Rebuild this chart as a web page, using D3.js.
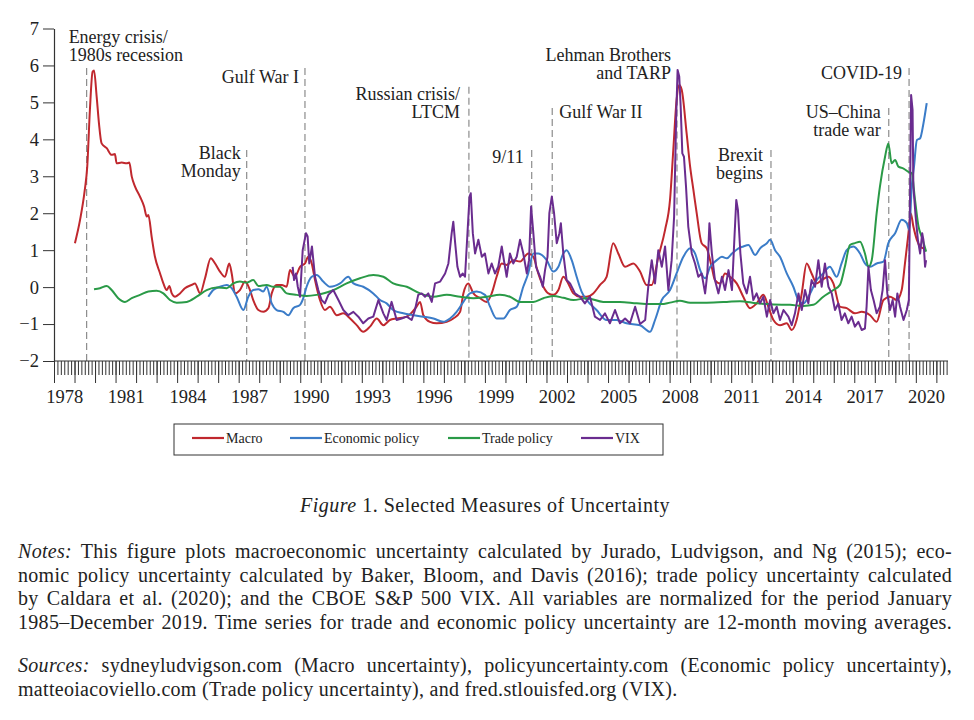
<!DOCTYPE html>
<html>
<head>
<meta charset="utf-8">
<script src="https://cdn.jsdelivr.net/npm/d3@7"></script>
<style>
  body { margin: 0; background: #fff; }
  svg { display: block; }
  text { font-family: "Liberation Serif", serif; fill: #222; }
</style>
</head>
<body>
<svg id="chart" width="974" height="720"></svg>
<script>
// ---- data (decimal year, normalized value) ----
const macro = [[1979.02,1.19],[1979.27,1.82],[1979.5,2.63],[1979.62,3.26],[1979.75,4.8],[1979.88,5.83],[1979.95,5.86],[1980.08,5.15],[1980.19,4.44],[1980.32,3.89],[1980.57,3.76],[1980.81,3.58],[1980.97,3.6],[1981.05,3.35],[1981.3,3.37],[1981.54,3.35],[1981.67,3.37],[1981.79,2.99],[1981.95,2.72],[1982.19,2.45],[1982.39,2.18],[1982.52,1.91],[1982.6,1.95],[1982.76,1.36],[1982.92,0.82],[1983.17,0.37],[1983.33,0.1],[1983.49,-0.08],[1983.62,0.03],[1983.74,-0.17],[1983.9,-0.26],[1984.14,-0.17],[1984.38,-0.03],[1984.71,0.06],[1984.87,0.1],[1985.12,-0.17],[1985.36,0.24],[1985.64,0.78],[1985.85,0.64],[1986.09,0.42],[1986.33,0.28],[1986.54,0.64],[1986.66,0.37],[1986.82,-0.17],[1987.06,-0.08],[1987.31,0.15],[1987.55,-0.08],[1987.71,-0.35],[1987.96,-0.62],[1988.2,-0.67],[1988.45,-0.57],[1988.61,-0.17],[1988.85,0.06],[1989.1,0.06],[1989.34,0.01],[1989.5,0.46],[1989.74,0.28],[1989.99,0.55],[1990.23,0.64],[1990.39,0.82],[1990.56,0.64],[1990.72,0.19],[1990.96,-0.35],[1991.2,-0.62],[1991.45,-0.53],[1991.78,-0.76],[1992.1,-0.71],[1992.43,-0.85],[1992.75,-1.03],[1993.07,-1.21],[1993.4,-1.07],[1993.73,-0.85],[1994.05,-1.03],[1994.37,-0.89],[1994.7,-0.85],[1995.19,-0.8],[1995.67,-0.53],[1995.84,-0.4],[1996.0,-0.76],[1996.32,-0.94],[1996.65,-0.98],[1997.14,-0.94],[1997.46,-0.85],[1997.79,-0.67],[1997.95,-0.17],[1998.19,0.1],[1998.44,-0.17],[1998.76,-0.3],[1999.09,-0.4],[1999.33,-0.17],[1999.57,0.28],[1999.82,0.64],[2000.06,0.6],[2000.38,0.73],[2000.71,0.69],[2001.11,0.91],[2001.36,0.82],[2001.6,0.37],[2001.85,0.01],[2002.09,-0.17],[2002.33,-0.21],[2002.58,-0.08],[2002.82,0.28],[2003.06,0.1],[2003.31,-0.17],[2003.63,-0.26],[2003.96,-0.26],[2004.28,-0.17],[2004.61,0.06],[2004.93,0.28],[2005.25,1.19],[2005.5,0.91],[2005.83,0.55],[2006.23,0.64],[2006.56,0.42],[2006.88,0.06],[2007.13,0.06],[2007.45,0.82],[2007.78,1.55],[2008.02,2.36],[2008.18,3.71],[2008.34,5.06],[2008.47,5.47],[2008.59,5.34],[2008.83,4.16],[2009.0,3.26],[2009.16,2.63],[2009.32,2.0],[2009.56,1.19],[2009.81,1.05],[2010.05,0.55],[2010.21,0.19],[2010.46,0.1],[2010.7,0.37],[2010.94,0.28],[2011.27,0.1],[2011.59,-0.26],[2011.92,-0.57],[2012.24,-0.44],[2012.57,-0.21],[2012.81,-0.53],[2013.06,-0.89],[2013.38,-1.03],[2013.71,-0.98],[2013.95,-1.16],[2014.19,-0.89],[2014.44,-0.17],[2014.68,0.64],[2014.92,0.37],[2015.17,0.1],[2015.41,0.19],[2015.74,0.28],[2015.98,0.1],[2016.3,-0.53],[2016.63,-0.57],[2017.03,-0.71],[2017.36,-0.67],[2017.77,-0.76],[2018.09,-0.94],[2018.42,-0.35],[2018.74,-0.26],[2019.07,-0.35],[2019.31,-0.08],[2019.47,0.64],[2019.64,1.46],[2019.75,2.0],[2019.88,1.64],[2020.05,1.28],[2020.21,1.1],[2020.37,1.05]];

const econPolicy = [[1985.52,-0.26],[1985.76,-0.08],[1986.09,0.01],[1986.42,0.06],[1986.66,-0.03],[1986.9,-0.26],[1987.23,-0.62],[1987.47,-0.26],[1987.71,-0.08],[1987.96,-0.06],[1988.2,-0.12],[1988.36,0.01],[1988.61,-0.44],[1988.85,-0.62],[1989.18,-0.67],[1989.42,-0.76],[1989.66,-0.57],[1989.99,-0.48],[1990.15,-0.3],[1990.31,0.01],[1990.56,0.28],[1990.8,0.33],[1991.12,0.15],[1991.45,0.01],[1991.94,0.1],[1992.34,0.28],[1992.59,0.1],[1993.07,0.01],[1993.56,-0.17],[1993.89,-0.35],[1994.21,-0.44],[1994.53,-0.62],[1995.02,-0.71],[1995.51,-0.76],[1996.0,-0.8],[1996.49,-0.85],[1996.97,-0.94],[1997.3,-0.85],[1997.62,-0.67],[1997.95,-0.4],[1998.27,-0.17],[1998.6,-0.12],[1999.0,-0.21],[1999.25,-0.53],[1999.57,-0.85],[1999.9,-0.85],[2000.22,-0.62],[2000.55,-0.53],[2000.87,0.01],[2001.11,0.37],[2001.36,0.91],[2001.6,0.91],[2002.01,0.73],[2002.33,0.42],[2002.58,0.55],[2002.82,0.91],[2002.98,1.0],[2003.23,0.73],[2003.47,0.28],[2003.71,-0.12],[2003.96,-0.35],[2004.44,-0.62],[2004.93,-0.89],[2005.41,-0.89],[2005.9,-0.98],[2006.56,-1.03],[2007.05,-1.21],[2007.29,-0.89],[2007.62,-0.35],[2008.02,-0.08],[2008.34,0.37],[2008.67,0.82],[2009.0,1.05],[2009.24,0.91],[2009.49,0.46],[2009.73,0.24],[2009.98,0.55],[2010.3,0.73],[2010.55,0.82],[2010.79,0.78],[2011.04,0.91],[2011.36,1.05],[2011.59,1.1],[2011.84,1.14],[2012.17,0.87],[2012.41,1.05],[2012.74,1.19],[2012.9,1.28],[2013.14,1.0],[2013.38,0.82],[2013.71,0.37],[2014.03,0.01],[2014.28,-0.35],[2014.52,-0.44],[2014.85,-0.17],[2015.17,0.19],[2015.49,0.37],[2015.81,0.55],[2016.14,0.28],[2016.38,0.64],[2016.63,1.0],[2016.96,1.1],[2017.28,0.91],[2017.52,0.64],[2017.77,0.55],[2018.09,0.64],[2018.42,0.69],[2018.66,1.19],[2018.99,1.46],[2019.31,1.82],[2019.56,1.73],[2019.68,1.55],[2019.8,2.72],[2019.91,3.26],[2020.05,3.98],[2020.21,4.03],[2020.37,4.43],[2020.53,4.98]];

const tradePolicy = [[1979.95,-0.06],[1980.24,-0.03],[1980.57,0.03],[1980.81,-0.08],[1981.13,-0.3],[1981.46,-0.4],[1981.79,-0.3],[1982.19,-0.21],[1982.6,-0.12],[1983.0,-0.1],[1983.33,-0.17],[1983.65,-0.35],[1983.98,-0.42],[1984.47,-0.4],[1984.95,-0.26],[1985.44,-0.08],[1985.93,-0.01],[1986.42,-0.03],[1986.74,0.1],[1987.06,0.15],[1987.39,0.12],[1987.71,0.19],[1987.96,0.03],[1988.36,0.06],[1988.69,0.01],[1989.01,0.01],[1989.34,-0.17],[1989.83,-0.21],[1990.31,-0.24],[1990.8,-0.21],[1991.2,-0.16],[1991.61,-0.08],[1992.26,0.1],[1992.91,0.24],[1993.56,0.33],[1994.05,0.28],[1994.53,0.1],[1995.19,0.01],[1995.84,-0.17],[1996.49,-0.26],[1997.14,-0.21],[1997.79,-0.26],[1998.44,-0.3],[1999.09,-0.26],[1999.73,-0.21],[2000.22,-0.26],[2000.71,-0.4],[2001.36,-0.4],[2001.85,-0.3],[2002.33,-0.24],[2002.82,-0.29],[2003.31,-0.35],[2003.96,-0.3],[2004.77,-0.4],[2005.58,-0.4],[2006.4,-0.44],[2007.05,-0.46],[2007.6,-0.46],[2008.02,-0.42],[2008.5,-0.37],[2009.0,-0.42],[2009.81,-0.42],[2010.79,-0.4],[2011.43,-0.38],[2012.24,-0.44],[2013.06,-0.47],[2013.87,-0.48],[2014.52,-0.51],[2015.0,-0.48],[2015.49,-0.26],[2015.98,-0.08],[2016.3,0.06],[2016.54,0.55],[2016.79,1.14],[2017.03,1.19],[2017.28,1.23],[2017.52,0.91],[2017.69,0.55],[2017.85,0.73],[2018.09,2.0],[2018.25,2.72],[2018.5,3.53],[2018.66,3.89],[2018.82,3.35],[2018.99,3.44],[2019.15,3.26],[2019.4,3.21],[2019.64,3.12],[2019.8,3.08],[2019.96,2.36],[2020.13,1.64],[2020.29,1.36],[2020.5,0.96]];

const vix = [[1989.63,0.55],[1989.7,0.19],[1989.79,0.37],[1989.88,0.01],[1989.99,-0.26],[1990.12,1.0],[1990.28,1.46],[1990.36,1.37],[1990.44,0.64],[1990.57,1.1],[1990.72,0.28],[1990.88,-0.08],[1991.04,-0.35],[1991.2,-0.44],[1991.37,-0.21],[1991.61,-0.08],[1991.86,-0.35],[1992.1,-0.62],[1992.34,-0.76],[1992.59,-0.67],[1992.83,-0.8],[1993.07,-0.98],[1993.32,-0.85],[1993.56,-0.8],[1993.81,-0.35],[1994.05,-0.71],[1994.21,-0.89],[1994.45,-0.4],[1994.7,-0.89],[1994.94,-0.85],[1995.19,-0.8],[1995.43,-0.89],[1995.59,-0.62],[1995.75,-0.21],[1995.92,-0.17],[1996.08,-0.26],[1996.24,-0.17],[1996.41,-0.4],[1996.57,0.1],[1996.82,0.15],[1997.06,0.37],[1997.22,0.64],[1997.38,1.46],[1997.46,1.77],[1997.55,1.19],[1997.66,0.55],[1997.79,0.28],[1997.92,0.37],[1998.03,0.28],[1998.15,1.46],[1998.25,2.45],[1998.31,2.54],[1998.41,1.46],[1998.52,0.91],[1998.68,1.28],[1998.85,0.82],[1999.0,0.91],[1999.17,0.37],[1999.33,0.64],[1999.49,0.37],[1999.65,0.55],[1999.82,1.1],[1999.95,0.64],[2000.06,0.28],[2000.22,0.91],[2000.38,0.64],[2000.55,0.82],[2000.71,1.28],[2000.87,0.91],[2001.04,0.37],[2001.15,0.73],[2001.25,2.18],[2001.36,1.46],[2001.49,0.55],[2001.69,0.28],[2001.82,0.01],[2001.93,0.46],[2002.05,0.82],[2002.14,2.0],[2002.26,2.45],[2002.37,2.0],[2002.5,1.19],[2002.63,1.46],[2002.7,1.73],[2002.82,0.91],[2002.98,0.19],[2003.15,0.1],[2003.39,-0.17],[2003.63,-0.26],[2003.87,-0.44],[2004.12,-0.26],[2004.36,-0.8],[2004.61,-0.89],[2004.85,-0.71],[2005.09,-0.98],[2005.34,-0.62],[2005.58,-0.98],[2005.83,-0.85],[2006.07,-0.98],[2006.32,-0.53],[2006.56,-1.0],[2006.81,-0.89],[2006.96,0.01],[2007.13,0.73],[2007.29,0.1],[2007.45,1.0],[2007.62,0.55],[2007.78,1.1],[2007.94,-0.08],[2008.1,0.73],[2008.22,1.91],[2008.32,4.61],[2008.39,5.88],[2008.47,5.7],[2008.54,4.88],[2008.62,3.62],[2008.7,3.53],[2008.8,2.72],[2008.91,1.64],[2009.08,0.91],[2009.24,0.64],[2009.4,0.28],[2009.56,0.37],[2009.73,-0.17],[2009.84,0.37],[2009.94,1.73],[2010.06,0.91],[2010.21,0.19],[2010.38,-0.17],[2010.55,0.28],[2010.7,-0.08],[2010.87,0.46],[2011.04,-0.08],[2011.17,1.46],[2011.25,2.36],[2011.33,2.09],[2011.45,0.91],[2011.59,0.1],[2011.76,-0.17],[2011.92,0.28],[2012.08,-0.35],[2012.24,-0.17],[2012.41,-0.44],[2012.57,-0.26],[2012.74,-0.8],[2012.9,-0.35],[2013.06,-0.71],[2013.22,-0.53],[2013.38,-0.89],[2013.55,-0.62],[2013.79,-0.8],[2013.95,-1.03],[2014.11,-0.71],[2014.28,-0.17],[2014.44,-0.62],[2014.6,-0.08],[2014.76,-0.44],[2014.92,0.19],[2015.09,0.01],[2015.25,0.73],[2015.41,0.01],[2015.57,0.64],[2015.74,0.01],[2015.9,-0.17],[2016.06,-0.62],[2016.22,-0.44],[2016.38,-0.89],[2016.54,-0.71],[2016.71,-0.98],[2016.87,-0.8],[2017.03,-1.07],[2017.2,-0.94],[2017.36,-1.16],[2017.52,-1.12],[2017.6,-0.53],[2017.69,0.55],[2017.81,-0.08],[2017.94,-0.35],[2018.09,-0.71],[2018.25,-0.53],[2018.38,-0.08],[2018.5,0.73],[2018.61,-0.17],[2018.74,-0.62],[2018.87,-0.35],[2018.99,-0.8],[2019.1,-0.17],[2019.23,-0.53],[2019.4,-0.89],[2019.56,-0.62],[2019.66,-0.35],[2019.73,3.08],[2019.77,5.2],[2019.84,4.8],[2019.88,2.72],[2019.99,1.91],[2020.1,1.28],[2020.21,0.91],[2020.31,1.46],[2020.37,1.28],[2020.45,0.55],[2020.5,0.73]];

const yTicks = [-2, -1, 0, 1, 2, 3, 4, 5, 6, 7];
const yearLabels = [1978, 1981, 1984, 1987, 1990, 1993, 1996, 1999, 2002, 2005, 2008, 2011, 2014, 2017, 2020];

// events: name lines, decimal year of the dashed line, value where the line starts
const eventNames = [["Energy crisis/", "1980s recession"], ["Black", "Monday"], ["Gulf War I"], ["Russian crisis/", "LTCM"], ["9/11"], ["Gulf War II"], ["Lehman Brothers", "and TARP"], ["Brexit", "begins"], ["US\u2013China", "trade war"], ["COVID-19"]];
const eventYears = [1979.59, 1987.39, 1990.23, 1998.22, 2001.28, 2002.28, 2008.36, 2012.94, 2018.68, 2019.67];
const eventTops = [5.93, 3.71, 5.93, 5.42, 3.71, 4.85, 5.4, 3.71, 4.85, 5.93];

const seriesNames = ["Macro", "Economic policy", "Trade policy", "VIX"];
const seriesData = [macro, econPolicy, tradePolicy, vix];

// ---- layout ----
const colors = ["#c0282e", "#3b7cc8", "#2a9a47", "#6a2c8f"];
// label placement for each event: anchor, x offset from the line, first baseline (px)
const eventLabelPos = [
  { anchor: "start", dx: -18, y: 43 },
  { anchor: "end", dx: -6, y: 159 },
  { anchor: "end", dx: -6, y: 83 },
  { anchor: "end", dx: -9, y: 100 },
  { anchor: "end", dx: -8, y: 163 },
  { anchor: "start", dx: 7, y: 118 },
  { anchor: "end", dx: -6, y: 61 },
  { anchor: "end", dx: -8, y: 161 },
  { anchor: "end", dx: -8, y: 118 },
  { anchor: "end", dx: -7, y: 79 }
];

const svg = d3.select("#chart");
svg.append("rect").attr("width", 974).attr("height", 720).attr("fill", "#fff");

const x = d3.scaleLinear().domain([1978, 2021.5]).range([54, 54 + 43.5 * 20.52]);
const y = d3.scaleLinear().domain([-2, 7]).range([361, 28.5]);

// event dashed lines and labels
eventYears.forEach((yr, i) => {
  svg.append("line")
    .attr("x1", x(yr)).attr("x2", x(yr))
    .attr("y1", y(eventTops[i])).attr("y2", y(-2))
    .attr("stroke", "#8c8c8c").attr("stroke-width", 1.2)
    .attr("stroke-dasharray", "7,4");
  const p = eventLabelPos[i];
  eventNames[i].forEach((s, j) => {
    svg.append("text")
      .attr("text-anchor", p.anchor)
      .attr("font-size", 18)
      .attr("x", x(yr) + p.dx).attr("y", p.y + j * 18)
      .text(s);
  });
});

// x axis: minor, major ticks and labels
const minorVals = d3.range(0, 43.5 * 6 + 1).map(i => 1978 + i / 6);
const gMinor = svg.append("g").attr("transform", `translate(0,${y(-2)})`)
  .call(d3.axisBottom(x).tickValues(minorVals).tickSize(14).tickFormat(""));
const gMajor = svg.append("g").attr("transform", `translate(0,${y(-2)})`)
  .call(d3.axisBottom(x).tickValues(d3.range(1978, 2022)).tickSize(22).tickFormat(""));
const gLab = svg.append("g").attr("transform", `translate(0,${y(-2)})`)
  .call(d3.axisBottom(x).tickValues(yearLabels.map(v => v + 0.5)).tickSize(0).tickPadding(29)
    .tickFormat(d => Math.floor(d)));
[gMinor, gMajor, gLab].forEach(g => g.select(".domain").remove());
svg.selectAll("g .tick line").attr("stroke", "#333").attr("stroke-width", 1);
gLab.selectAll("text").attr("font-size", 18.5).attr("font-family", "Liberation Serif").attr("fill", "#222");

svg.append("line")
  .attr("x1", 54).attr("x2", 948).attr("y1", y(-2)).attr("y2", y(-2))
  .attr("stroke", "#333").attr("stroke-width", 1.2);

// y axis
const gy = svg.append("g").attr("transform", "translate(54,0)")
  .call(d3.axisLeft(y).tickValues(yTicks).tickSize(11).tickSizeOuter(0).tickPadding(4));
gy.select(".domain").attr("stroke", "#333").attr("stroke-width", 1.2);
gy.selectAll(".tick line").attr("stroke", "#333");
gy.selectAll("text").attr("font-size", 18.5).attr("font-family", "Liberation Serif").attr("fill", "#222");

// series lines
const line = d3.line().x(d => x(d[0])).y(d => y(d[1]));
[0, 1, 2, 3].forEach(i => {
  svg.append("path")
    .datum(seriesData[i])
    .attr("fill", "none")
    .attr("stroke", colors[i])
    .attr("stroke-width", 2)
    .attr("stroke-linejoin", "round")
    .attr("d", line.curve(i === 3 ? d3.curveLinear : d3.curveMonotoneX));
});

// legend
const legendItemX = [192, 290, 448, 581];
svg.append("rect")
  .attr("x", 174).attr("y", 424).attr("width", 489).attr("height", 31)
  .attr("fill", "none").attr("stroke", "#333").attr("stroke-width", 1);
seriesNames.forEach((name, i) => {
  svg.append("line")
    .attr("x1", legendItemX[i]).attr("x2", legendItemX[i] + 32)
    .attr("y1", 438).attr("y2", 438)
    .attr("stroke", colors[i]).attr("stroke-width", 2.2);
  svg.append("text")
    .attr("x", legendItemX[i] + 34).attr("y", 443)
    .attr("font-size", 14)
    .text(name);
});

// caption
const cap = svg.append("text").attr("x", 485).attr("y", 512)
  .attr("text-anchor", "middle").attr("font-size", 20).attr("letter-spacing", 0.5);
cap.append("tspan").attr("font-style", "italic").text("Figure");
cap.append("tspan").text(" 1. Selected Measures of Uncertainty");

// notes, justified by word spacing
const noteLines = [
  ["Notes:", " This figure plots macroeconomic uncertainty calculated by Jurado, Ludvigson, and Ng (2015); eco-"],
  ["", "nomic policy uncertainty calculated by Baker, Bloom, and Davis (2016); trade policy uncertainty calculated"],
  ["", "by Caldara et al. (2020); and the CBOE S&P 500 VIX. All variables are normalized for the period January"],
  ["", "1985\u2013December 2019. Time series for trade and economic policy uncertainty are 12-month moving averages."],
  ["Sources:", " sydneyludvigson.com (Macro uncertainty), policyuncertainty.com (Economic policy uncertainty),"],
  ["", "matteoiacoviello.com (Trade policy uncertainty), and fred.stlouisfed.org (VIX)."]
];
const noteY = [558, 581.5, 605, 628.5, 672, 695.5];
const noteWidth = 934;
noteLines.forEach((ln, i) => {
  const t = svg.append("text").attr("x", 18).attr("y", noteY[i])
    .attr("font-size", 20).attr("letter-spacing", 0.3);
  if (ln[0]) t.append("tspan").attr("font-style", "italic").text(ln[0]);
  t.append("tspan").text(ln[1]);
  if (i !== 5) {
    const w = t.node().getComputedTextLength();
    const gaps = (ln[0] + ln[1]).split(" ").length - 1;
    t.attr("word-spacing", (noteWidth - w) / gaps);
  }
});
</script>
</body>
</html>
